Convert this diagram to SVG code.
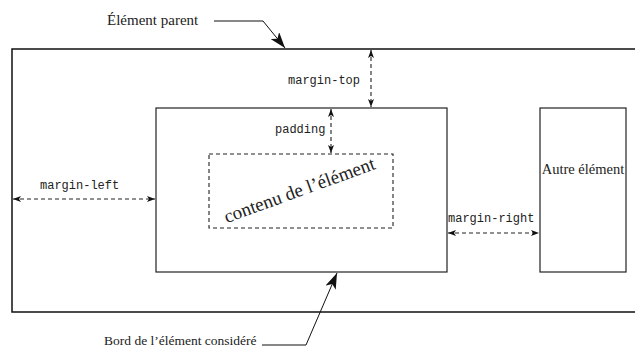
<svg xmlns="http://www.w3.org/2000/svg" width="635" height="350" viewBox="0 0 635 350">
<style>
.box{fill:none;stroke:#222;stroke-width:1.2}
.outer{fill:none;stroke:#111;stroke-width:1.5}
.dash{fill:none;stroke:#222;stroke-width:1.1;stroke-dasharray:4,3}
.ptr{fill:none;stroke:#111;stroke-width:1}
.mono{font-family:"Liberation Mono","DejaVu Sans Mono",monospace;font-size:12px;fill:#222}
.serif{font-family:"Liberation Serif","DejaVu Serif",serif;font-size:14px;fill:#222}
</style>
<defs>
<marker id="big" viewBox="0 0 16 11" refX="16" refY="5.5" markerWidth="16" markerHeight="11" markerUnits="userSpaceOnUse" orient="auto">
<path d="M16,5.5 L0,0 L4,5.5 L0,11 Z" fill="#111"/>
</marker>
<marker id="sm" viewBox="0 0 8 6" refX="8" refY="3" markerWidth="8" markerHeight="6" markerUnits="userSpaceOnUse" orient="auto-start-reverse">
<path d="M8,3 L0,0 L2,3 L0,6 Z" fill="#111"/>
</marker>
</defs>
<g id="parent">
<path class="outer" d="M640,49 H12 V312 H640"/>
<text class="serif" x="107" y="25" style="font-size:15px">Élément parent</text>
</g>
<g id="element">
<rect class="box" x="156" y="108" width="291" height="164"/>
<text class="serif" x="104" y="345" style="font-size:13.5px">Bord de l’élément considéré</text>
</g>
<g id="content">
<rect class="dash" x="209" y="154" width="184" height="74"/>
<text x="301.5" y="196" text-anchor="middle" transform="rotate(-20 301.5 196)" style="font-family:'Liberation Serif','DejaVu Serif',serif;font-size:19px;fill:#222">contenu de l’élément</text>
</g>
<g id="autre">
<rect class="box" x="540" y="108" width="86" height="164"/>
<text class="serif" x="583" y="174" text-anchor="middle" style="font-size:14.5px">Autre élément</text>
</g>
<g id="labels">
<text class="mono" x="288" y="84">margin-top</text>
<text class="mono" x="275" y="133">padding</text>
<text class="mono" x="40" y="189">margin-left</text>
<text class="mono" x="448" y="222">margin-right</text>
</g>
<g id="connectors">
<line class="dash" x1="371" y1="50" x2="371" y2="107" marker-start="url(#sm)" marker-end="url(#sm)"/>
<line class="dash" x1="331" y1="109" x2="331" y2="153" marker-start="url(#sm)" marker-end="url(#sm)"/>
<line class="dash" x1="13" y1="199" x2="155" y2="199" marker-start="url(#sm)" marker-end="url(#sm)"/>
<line class="dash" x1="448" y1="233" x2="539" y2="233" marker-start="url(#sm)" marker-end="url(#sm)"/>
<polyline class="ptr" points="214,21 263,21 285,48" marker-end="url(#big)"/>
<polyline class="ptr" points="262,345 306,345 337,273" marker-end="url(#big)"/>
</g>
</svg>
